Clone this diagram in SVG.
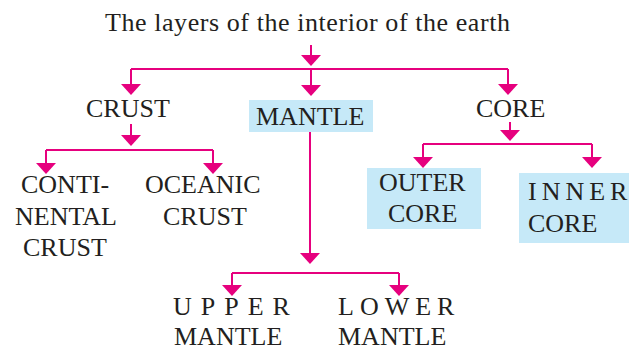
<svg xmlns="http://www.w3.org/2000/svg" width="629" height="350" viewBox="0 0 629 350">
<defs>
<marker id="ah" markerUnits="userSpaceOnUse" markerWidth="11" markerHeight="20" viewBox="0 -10 11 20" refX="10" refY="0" orient="auto">
<path d="M0,-10 L11,0 L0,10 z" fill="#E6007E"/>
</marker>
</defs>
<style>
text{font-family:"Liberation Serif","Times New Roman",serif;font-size:26px;fill:#231F20}
.c{stroke:#E6007E;stroke-width:2;fill:none}
.a{marker-end:url(#ah)}
.box{fill:#C6E9F8}
</style>
<rect width="629" height="350" fill="#fff"/>
<g id="title"><text x="105" y="31" textLength="405">The layers of the interior of the earth</text></g>
<g id="crust"><text x="86" y="117">CRUST</text></g>
<g id="mantle"><rect class="box" x="249" y="100" width="124" height="32"/><text x="256" y="125">MANTLE</text></g>
<g id="core"><text x="476" y="117">CORE</text></g>
<g id="continental-crust"><text x="21" y="193">CONTI-</text><text x="15" y="225">NENTAL</text><text x="23" y="256">CRUST</text></g>
<g id="oceanic-crust"><text x="145" y="193">OCEANIC</text><text x="163" y="225">CRUST</text></g>
<g id="outer-core"><rect class="box" x="367" y="168" width="114" height="61"/><text x="379" y="191">OUTER</text><text x="388" y="222">CORE</text></g>
<g id="inner-core"><rect class="box" x="519" y="173" width="110" height="70"/><text x="528" y="200"><tspan letter-spacing="5">INNE</tspan>R</text><text x="528" y="232">CORE</text></g>
<g id="upper-mantle"><text x="173" y="315"><tspan letter-spacing="9">UPPE</tspan>R</text><text x="174" y="345">MANTLE</text></g>
<g id="lower-mantle"><text x="338" y="315"><tspan letter-spacing="6">LOWE</tspan>R</text><text x="338" y="345">MANTLE</text></g>
<g id="connectors">
<line class="c a" x1="311" y1="45" x2="311" y2="65"/>
<path class="c" d="M131,69 H508"/>
<line class="c a" x1="131" y1="69" x2="131" y2="94"/>
<line class="c a" x1="311" y1="69" x2="311" y2="95"/>
<line class="c a" x1="508" y1="69" x2="508" y2="94"/>
<line class="c a" x1="131" y1="124" x2="131" y2="145"/>
<path class="c" d="M46,150 H213"/>
<line class="c a" x1="46" y1="150" x2="46" y2="173"/>
<line class="c a" x1="213" y1="150" x2="213" y2="173"/>
<line class="c a" x1="510" y1="122" x2="510" y2="140"/>
<path class="c" d="M423,144 H592"/>
<line class="c a" x1="423" y1="144" x2="423" y2="167"/>
<line class="c a" x1="592" y1="144" x2="592" y2="167"/>
<line class="c a" x1="310" y1="132" x2="310" y2="263"/>
<path class="c" d="M232,273 H399"/>
<line class="c a" x1="232" y1="273" x2="232" y2="295"/>
<line class="c a" x1="399" y1="273" x2="399" y2="295"/>
</g>
</svg>
